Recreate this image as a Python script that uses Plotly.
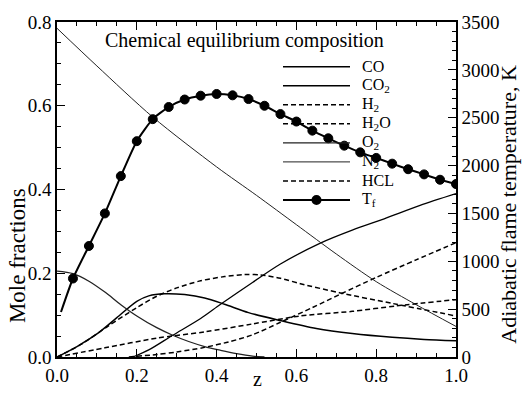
import plotly.graph_objects as go

# ---------------- data ----------------
z_tf = [0.01, 0.04, 0.08, 0.12, 0.16, 0.20, 0.24, 0.28, 0.32, 0.36, 0.40, 0.44, 0.48,
        0.52, 0.56, 0.60, 0.64, 0.68, 0.72, 0.76, 0.80, 0.84, 0.88, 0.92, 0.96, 1.00]
t_f = [470, 820, 1160, 1500, 1890, 2255, 2485, 2612, 2690, 2730, 2748, 2734, 2695,
       2625, 2538, 2460, 2365, 2285, 2208, 2138, 2080, 2020, 1962, 1908, 1852, 1807]

z_n2 = [0.0, 0.1, 0.24, 0.4, 0.5, 0.6, 0.7, 0.8, 0.9, 1.0]
x_n2 = [0.785, 0.695, 0.573, 0.454, 0.386, 0.316, 0.246, 0.18, 0.125, 0.073]

z_o2 = [0.0, 0.04, 0.08, 0.12, 0.16, 0.20, 0.25, 0.29, 0.33, 0.37, 0.41, 0.45, 0.49, 0.52]
x_o2 = [0.205, 0.199, 0.181, 0.155, 0.125, 0.098, 0.070, 0.052, 0.037, 0.025, 0.016, 0.008, 0.002, 0.0]

z_co2 = [0.0, 0.05, 0.10, 0.15, 0.20, 0.23, 0.27, 0.32, 0.37, 0.42, 0.48, 0.56, 0.65, 0.74, 0.84, 0.92, 1.0]
x_co2 = [0.0, 0.025, 0.055, 0.094, 0.133, 0.146, 0.151, 0.149, 0.141, 0.126, 0.106, 0.087, 0.068, 0.056, 0.047, 0.042, 0.039]

z_co = [0.19, 0.23, 0.29, 0.36, 0.41, 0.49, 0.56, 0.66, 0.74, 0.82, 0.91, 1.0]
x_co = [0.0, 0.017, 0.052, 0.092, 0.126, 0.178, 0.222, 0.272, 0.303, 0.33, 0.362, 0.39]

z_h2o = [0.0, 0.06, 0.13, 0.20, 0.25, 0.30, 0.36, 0.42, 0.47, 0.51, 0.56, 0.61, 0.71, 0.84, 1.0]
x_h2o = [0.0, 0.03, 0.075, 0.118, 0.145, 0.165, 0.182, 0.192, 0.197, 0.196, 0.188, 0.175, 0.153, 0.128, 0.098]

z_h2 = [0.18, 0.25, 0.30, 0.37, 0.43, 0.49, 0.56, 0.64, 0.71, 0.80, 0.90, 1.0]
x_h2 = [0.0, 0.006, 0.012, 0.023, 0.036, 0.053, 0.083, 0.118, 0.15, 0.19, 0.232, 0.273]

z_hcl = [0.0, 0.12, 0.25, 0.37, 0.49, 0.61, 0.74, 0.85, 1.0]
x_hcl = [0.0, 0.022, 0.045, 0.06, 0.079, 0.098, 0.109, 0.122, 0.137]

legend_labels = ["CO", "CO<sub>2</sub>", "H<sub>2</sub>", "H<sub>2</sub>O",
                 "O<sub>2</sub>", "N<sub>2</sub>", "HCL", "T<sub>f</sub>"]
title_text = "Chemical equilibrium composition"

# ---------------- styles ----------------
FONT = "Liberation Serif"
styles = {
    "CO": dict(color="black", width=1.3, dash="solid"),
    "CO2": dict(color="black", width=1.5, dash="solid"),
    "H2": dict(color="black", width=1.5, dash="5px,3px"),
    "H2O": dict(color="black", width=1.5, dash="5px,3px"),
    "O2": dict(color="#222", width=1.3, dash="solid"),
    "N2": dict(color="#222", width=1.0, dash="solid"),
    "HCL": dict(color="black", width=1.5, dash="5px,3px"),
}

fig = go.Figure()
series = [("CO", z_co, x_co), ("CO2", z_co2, x_co2), ("H2", z_h2, x_h2),
          ("H2O", z_h2o, x_h2o), ("O2", z_o2, x_o2), ("N2", z_n2, x_n2),
          ("HCL", z_hcl, x_hcl)]
for name, zz, xx in series:
    fig.add_trace(go.Scatter(x=zz, y=xx, mode="lines", name=name,
                             line=dict(shape="spline", smoothing=0.8, **styles[name]),
                             showlegend=False, hoverinfo="skip"))

fig.add_trace(go.Scatter(x=z_tf, y=t_f, yaxis="y2", mode="lines", name="Tf line",
                         line=dict(color="black", width=2, shape="spline", smoothing=0.6),
                         showlegend=False, hoverinfo="skip"))
fig.add_trace(go.Scatter(x=z_tf[1:], y=t_f[1:], yaxis="y2", mode="markers", name="Tf",
                         marker=dict(color="black", size=9, opacity=1,
                                     line=dict(color="black", width=1)),
                         showlegend=False, hoverinfo="skip"))

# ---------------- manual legend ----------------
shapes = []
annotations = []
L = 57.0
R = 456.0
T = 16.0
B = 368.0
W = R - L
H = B - T
def px(xp):
    return (xp - L) / W
def py(yp):
    return (B - yp) / H

legend_styles = [styles["CO"], styles["CO2"], styles["H2"], styles["H2O"],
                 styles["O2"], styles["N2"], styles["HCL"],
                 dict(color="black", width=2, dash="solid")]
for i, (lab, st) in enumerate(zip(legend_labels, legend_styles)):
    yrow = 63 + 20 * i
    shapes.append(dict(type="line", xref="paper", yref="paper",
                       x0=px(283), x1=px(350), y0=py(yrow), y1=py(yrow),
                       line=dict(color=st["color"], width=st["width"], dash=st["dash"])))
    annotations.append(dict(text=lab, xref="paper", yref="paper", x=px(360), y=py(yrow),
                            xanchor="left", yanchor="middle", showarrow=False,
                            font=dict(family=FONT, size=16, color="black")))
shapes.append(dict(type="circle", xref="paper", yref="paper", xsizemode="pixel",
                   ysizemode="pixel", xanchor=px(316.5), yanchor=py(63 + 20 * 7),
                   x0=-5, x1=5, y0=-5, y1=5, fillcolor="black", line=dict(color="black", width=0)))

annotations.append(dict(text=title_text, xref="paper", yref="paper", x=px(103), y=py(35),
                        xanchor="left", yanchor="middle", showarrow=False,
                        font=dict(family=FONT, size=20, color="black")))
annotations.append(dict(text="Mole fractions", xref="paper", yref="paper", x=px(17), y=py(262),
                        xanchor="center", yanchor="middle", showarrow=False, textangle=-90,
                        font=dict(family=FONT, size=23, color="black")))
annotations.append(dict(text="Adiabatic flame temperature, K", xref="paper", yref="paper",
                        x=px(509), y=py(208), xanchor="center", yanchor="middle",
                        showarrow=False, textangle=-90,
                        font=dict(family=FONT, size=22, color="black")))
annotations.append(dict(text="z", xref="paper", yref="paper", x=px(257), y=py(391),
                        xanchor="center", yanchor="middle", showarrow=False,
                        font=dict(family=FONT, size=20, color="black")))

tickfont = dict(family=FONT, size=19, color="black")
axis_common = dict(showgrid=False, zeroline=False, showline=True, linecolor="black",
                   linewidth=1.5, ticks="inside", ticklen=8, tickwidth=1.2, tickcolor="black",
                   tickfont=tickfont)

fig.update_layout(
    width=522, height=398,
    font=dict(family=FONT, size=19, color="black"),
    margin=dict(l=L, r=522 - R, t=T, b=398 - B, pad=0),
    paper_bgcolor="white", plot_bgcolor="white",
    shapes=shapes, annotations=annotations,
    xaxis=dict(range=[0, 1], dtick=0.2, tickformat=".1f", mirror="ticks",
               minor=dict(ticks="inside", ticklen=4, dtick=0.05, tickcolor="black"),
               **axis_common),
    yaxis=dict(range=[0, 0.8], dtick=0.2, tickformat=".1f", mirror=True,
               minor=dict(ticks="inside", ticklen=4, dtick=0.05, tickcolor="black"),
               **axis_common),
    yaxis2=dict(range=[0, 3500], dtick=500, overlaying="y", side="right",
                minor=dict(ticks="inside", ticklen=4, dtick=100, tickcolor="black"),
                **axis_common),
)

fig.write_html("out.html")
